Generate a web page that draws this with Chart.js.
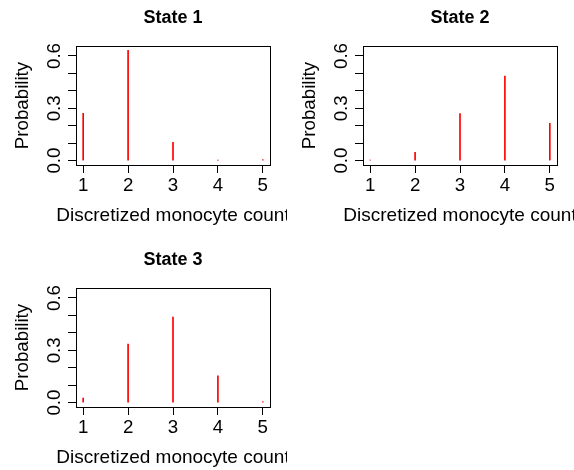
<!DOCTYPE html>
<html>
<head>
<meta charset="utf-8">
<script src="https://cdn.jsdelivr.net/npm/chart.js@4"></script>
<style>
  html, body { margin: 0; padding: 0; background: #fff; overflow: hidden; }
  #wrap { position: relative; width: 574px; height: 470px; overflow: hidden; }
  canvas { position: absolute; }
</style>
</head>
<body>
<div id="wrap">
  <canvas id="state1Chart" width="287" height="235" style="left:0;top:0"></canvas>
  <canvas id="state2Chart" width="287" height="235" style="left:287px;top:0"></canvas>
  <canvas id="state3Chart" width="287" height="235" style="left:0;top:242px"></canvas>
</div>
<script>
//DATA
var counts = [1, 2, 3, 4, 5];
var state1 = [0.271, 0.632, 0.105, 0.002, 0.005];
var state2 = [0.003, 0.047, 0.269, 0.485, 0.214];
var state3 = [0.026, 0.336, 0.491, 0.153, 0.005];
var xTickLabels = ["1", "2", "3", "4", "5"];
var yTicks = [0, 0.1, 0.2, 0.3, 0.4, 0.5, 0.6];
var yTickLabels = ["0.0", "", "", "0.3", "", "", "0.6"];

//Colors and fonts
var $red = "#ff0000";
var $black = "#000000";
var $family = "'Liberation Sans', Arial, Helvetica, sans-serif";

// box round the plot region, like R's box()
var boxPlugin = {
  id: "box",
  afterDraw: function (chart) {
    var a = chart.chartArea, ctx = chart.ctx;
    ctx.save();
    ctx.strokeStyle = $black;
    ctx.lineWidth = 1;
    ctx.strokeRect(a.left + 0.5, a.top + 0.5, a.right - a.left, a.bottom - a.top);
    ctx.restore();
  }
};

// x axis label, drawn unsqueezed so it can run off the panel like in R
var xTitlePlugin = {
  id: "xTitle",
  afterDraw: function (chart) {
    var a = chart.chartArea, ctx = chart.ctx;
    ctx.save();
    ctx.font = "19px " + $family;
    ctx.fillStyle = $black;
    ctx.textAlign = "center";
    ctx.textBaseline = "middle";
    ctx.fillText("Discretized monocyte count", (a.left + a.right) / 2, a.bottom + 51);
    ctx.restore();
  }
};

function stateChart(id, title, values) {
  var ctx = document.getElementById(id).getContext("2d");
  return new Chart(ctx, {
    type: "bar",
    data: {
      datasets: [
        {
          data: counts.map(function (c, i) { return { x: c, y: values[i] }; }),
          backgroundColor: $red,
          borderWidth: 0,
          barThickness: 1
        }
      ]
    },
    options: {
      responsive: false,
      animation: false,
      devicePixelRatio: 1,
      layout: { padding: { left: 0, top: 0, bottom: 0, right: 17 } },
      plugins: {
        legend: { display: false },
        tooltip: { enabled: false },
        title: {
          display: true,
          text: title,
          fullSize: false,
          color: $black,
          font: { family: $family, size: 18, weight: "bold" },
          padding: { top: 7, bottom: 17.4 }
        }
      },
      scales: {
        x: {
          type: "linear",
          min: 0.84,
          max: 5.16,
          offset: false,
          afterBuildTicks: function (scale) {
            scale.ticks = counts.map(function (v) { return { value: v }; });
          },
          afterFit: function (scale) { scale.height = 70; },
          ticks: {
            autoSkip: false,
            maxRotation: 0,
            padding: 2,
            color: $black,
            font: { family: $family, size: 18.7 },
            callback: function (v, i) { return xTickLabels[i]; }
          },
          grid: { offset: false, drawOnChartArea: false, drawTicks: true, tickLength: 8, color: $black, lineWidth: 1 },
          border: { display: true, color: $black, width: 1 }
        },
        y: {
          type: "linear",
          min: -0.0253,
          max: 0.6573,
          afterBuildTicks: function (scale) {
            scale.ticks = yTicks.map(function (v) { return { value: v }; });
          },
          afterFit: function (scale) { scale.width = 76; },
          ticks: {
            autoSkip: false,
            minRotation: 90,
            maxRotation: 90,
            crossAlign: "center",
            padding: 0,
            color: $black,
            font: { family: $family, size: 18.7 },
            callback: function (v, i) { return yTickLabels[i]; }
          },
          grid: { drawOnChartArea: false, drawTicks: true, tickLength: 8, color: $black, lineWidth: 1 },
          border: { display: true, color: $black, width: 1 },
          title: {
            display: true,
            text: "Probability",
            color: $black,
            font: { family: $family, size: 18.7 },
            padding: { top: 12, bottom: 0 }
          }
        }
      }
    },
    plugins: [boxPlugin, xTitlePlugin]
  });
}

//Show Charts on load
stateChart("state1Chart", "State 1", state1);
stateChart("state2Chart", "State 2", state2);
stateChart("state3Chart", "State 3", state3);
</script>
</body>
</html>
